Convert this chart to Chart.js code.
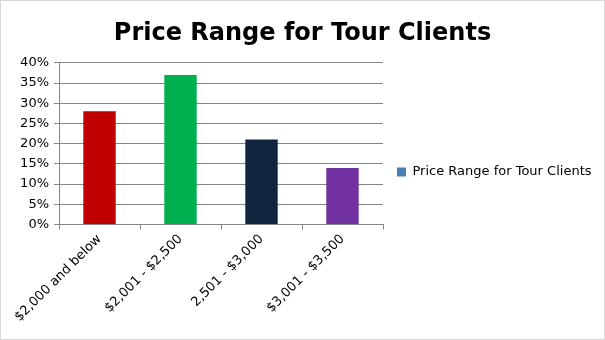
<!DOCTYPE html>
<html><head><meta charset="utf-8">
<script src="https://cdn.jsdelivr.net/npm/chart.js@4"></script>
<style>
html,body{margin:0;padding:0;background:#fff;}
#wrap{position:absolute;left:0;top:0;width:603px;height:338px;border:1px solid #d9d9d9;}
</style></head>
<body><div id="wrap"><canvas id="c" width="603" height="338"></canvas></div>
<script>
const categories = ["$2,000 and below", "$2,001 - $2,500", "2,501 - $3,000", "$3,001 - $3,500"];
const values = [0.28, 0.37, 0.21, 0.14];
const barColors = ["#c00000", "#00b050", "#10243e", "#7030a0"];
const seriesName = "Price Range for Tour Clients";
const chartTitle = "Price Range for Tour Clients";
const yTicks = [0, 0.05, 0.10, 0.15, 0.20, 0.25, 0.30, 0.35, 0.40];

Chart.defaults.font.family = "'DejaVu Sans', sans-serif";
Chart.defaults.color = "#000";

new Chart(document.getElementById('c'), {
  type: 'bar',
  data: { labels: categories, datasets: [{ label: seriesName, data: values, backgroundColor: barColors, barPercentage: 0.4, categoryPercentage: 1.0 }] },
  options: {
    responsive: false, animation: false,
    layout: { padding: { left: 7, right: 7, top: 0, bottom: 12 } },
    plugins: {
      title: { display: true, text: chartTitle, font: { size: 24, weight: 'bold' }, color: '#000', padding: { top: 18, bottom: 15 } },
      legend: {
        position: 'right',
        maxWidth: 214,
        title: { display: true, text: '', font: { size: 1, lineHeight: 1 }, padding: { top: 0, bottom: 15 } },
        labels: {
          font: { size: 13 }, color: '#000', boxWidth: 9, boxHeight: 9, padding: 14,
          generateLabels: () => [{ text: seriesName, fillStyle: '#4a7ebb', strokeStyle: '#4a7ebb', lineWidth: 0 }]
        }
      },
      tooltip: { enabled: false }
    },
    scales: {
      x: {
        grid: { display: true, drawOnChartArea: false, drawTicks: true, tickLength: 5, offset: true, color: '#868686' },
        border: { color: '#868686' },
        ticks: { font: { size: 13 }, color: '#000', maxRotation: 45, minRotation: 45, padding: 2 }
      },
      y: {
        min: 0, max: 0.4,
        afterBuildTicks: (s) => { s.ticks = yTicks.map(v => ({ value: v })); },
        afterFit: (s) => { s.width = 51; },
        grid: { color: '#868686', tickLength: 5 },
        border: { color: '#868686' },
        ticks: { font: { size: 13 }, color: '#000', padding: 5, callback: (v) => Math.round(v * 100) + '%' }
      }
    }
  }
});
</script></body></html>
